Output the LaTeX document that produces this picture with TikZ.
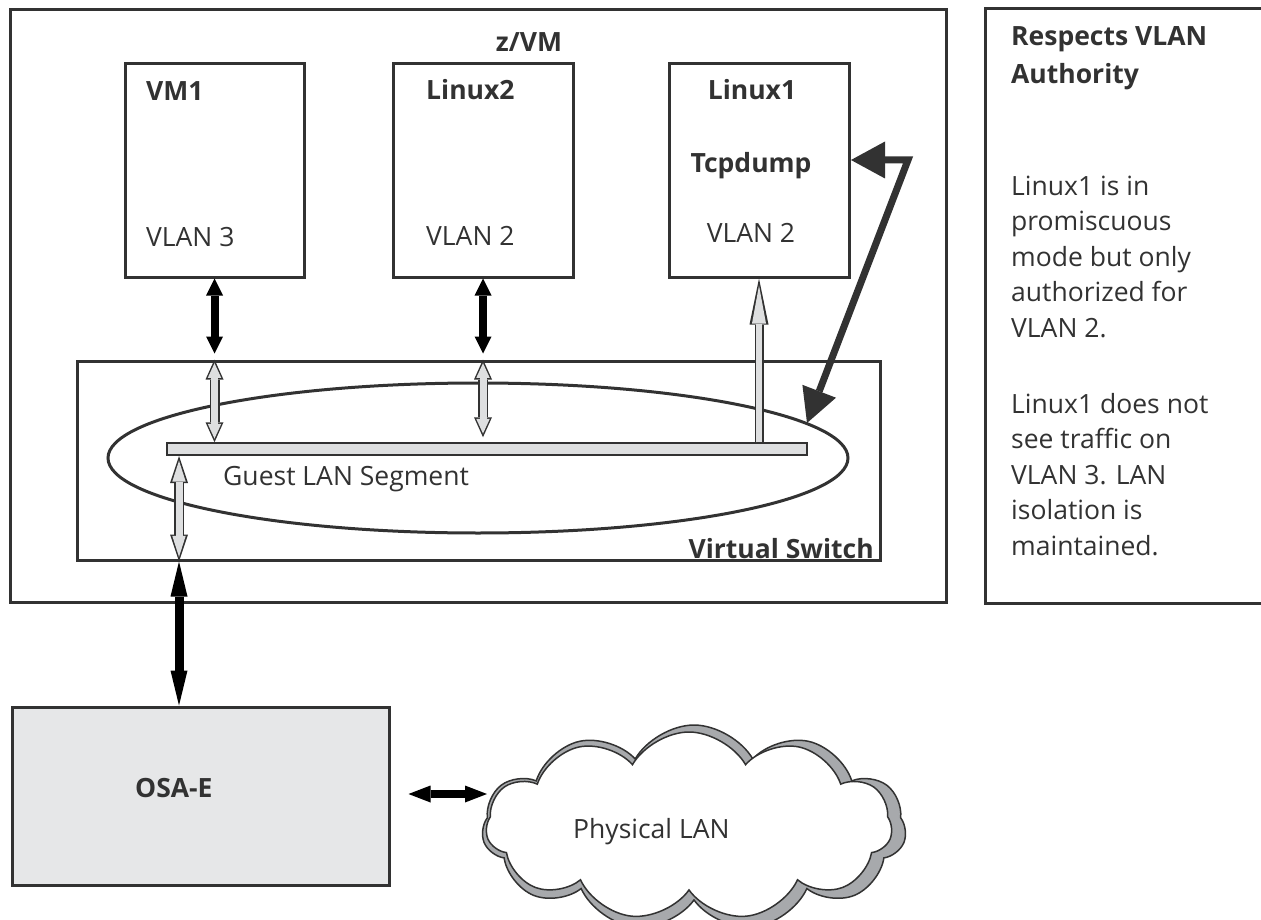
\documentclass[tikz,border=0pt]{standalone}
\usepackage{fontspec}
\setmainfont{Open Sans}
\usetikzlibrary{arrows.meta,positioning,calc,shapes.geometric,shapes.symbols}
\definecolor{ink}{RGB}{50,50,50}
\definecolor{barGray}{RGB}{222,223,224}
\definecolor{osaGray}{RGB}{230,231,232}
\definecolor{cloudGray}{RGB}{167,169,172}

\begin{document}
\begin{tikzpicture}[x=1pt, y=-1pt,
    every node/.style={font=\fontsize{26.5}{35.5}\selectfont, text=ink, inner sep=0pt},
    box/.style={draw=ink, line width=3pt},
    tag/.style={font=\fontsize{26.5}{38}\selectfont\bfseries},
    wire/.style 2 args={color=black, line width=#1,
      {Triangle[length=#2,width=17pt,line width=0pt]}-{Triangle[length=#2,width=17pt,line width=0pt]}},
    rim/.style={color=ink, line width=10pt,
      {Triangle[length=#1,width=18pt,line width=0pt]}-{Triangle[length=#1,width=18pt,line width=0pt]}},
    core/.style 2 args={color=barGray, line width=7pt, shorten <=#2, shorten >=#2,
      {Triangle[length=#1,width=13.5pt,line width=0pt]}-{Triangle[length=#1,width=13.5pt,line width=0pt]}},
    rimup/.style={color=ink, line width=9pt, -{Triangle[length=46pt,width=19pt,line width=0pt]}},
    coreup/.style={color=barGray, line width=6pt, shorten >=7pt,
      -{Triangle[length=38pt,width=14pt,line width=0pt]}},
    sniff/.style={color=ink, line width=7pt, line join=miter,
      {Triangle[length=34pt,width=37pt,line width=0pt]}-{Triangle[length=34pt,width=36pt,line width=0pt]}}
  ]
    \useasboundingbox (0,0) rectangle (1261,920);

    % z/VM and its guests
    \node[box, minimum width=936pt, minimum height=592pt] (zvm) at (478,306) {};
    \node[tag, anchor=base] (zvmtag) at (529,52) {z/VM};
    \node[box, minimum width=179pt, minimum height=213pt] (vmone) at (214.5,170.5) {};
    \node[box, minimum width=180pt, minimum height=213pt] (linuxtwo) at (483,170.5) {};
    \node[box, minimum width=180pt, minimum height=213pt] (linuxone) at (759,170.5) {};
    \node[tag, anchor=base west] (vmonetag) at (146,101) {VM1};
    \node[anchor=base west] (vmonevlan) at (146,247) {VLAN 3};
    \node[tag, anchor=base west] (linuxtwotag) at (426,100) {Linux2};
    \node[anchor=base west] (linuxtwovlan) at (426,246) {VLAN 2};
    \node[tag, anchor=base] (linuxonetag) at (752,100) {Linux1};
    \node[tag, anchor=base] (tcp) at (751,173) {Tcpdump};
    \node[anchor=base] (linuxonevlan) at (751,243) {VLAN 2};

    % Virtual Switch
    \node[box, minimum width=803pt, minimum height=199pt] (vswitch) at (478.5,460.5) {};
    \node[ellipse, draw=ink, line width=3pt, minimum width=740pt, minimum height=150pt] (seg) at (478,458) {};
    \node[draw=ink, fill=barGray, line width=1.5pt, minimum width=640pt, minimum height=12pt] (bar) at (487,449) {};
    \node[anchor=base west] (segtag) at (223,485) {Guest LAN Segment};
    \node[tag, anchor=base east] (vswitchtag) at (874,558) {Virtual Switch};

    % OSA-E and the physical LAN
    \node[box, fill=osaGray, minimum width=377pt, minimum height=178pt] (osa) at (200.5,796) {};
    \node[tag, anchor=base west] (osatag) at (135,797) {OSA-E};
    \node[cloud, cloud puffs=11, cloud puff arc=120, cloud ignores aspect, shape border rotate=12,
      draw=ink, fill=cloudGray, line width=1.5pt, minimum width=424pt, minimum height=206pt] (lanshade) at (694,828) {};
    \node[cloud, cloud puffs=11, cloud puff arc=120, cloud ignores aspect,
      draw=ink, fill=white, line width=1.5pt, minimum width=406pt, minimum height=188pt] (lan) at (689,826) {};
    \node[anchor=base west] (lantag) at (573,838) {Physical LAN};

    % Respects VLAN Authority
    \node[box, minimum width=290pt, minimum height=594pt] (note) at (1130,306) {};
    \node[tag, anchor=base west, align=left] (notehead) at (1011,84) {Respects VLAN\\Authority};
    \node[anchor=base west, align=left] (notepromisc) at (1011,337)
      {Linux1 is in\\promiscuous\\mode but only\\authorized for\\VLAN 2.};
    \node[anchor=base west, align=left] (noteisolate) at (1011,555)
      {Linux1 does not\\see traffic on\\VLAN 3. LAN\\isolation is\\maintained.};

    % links
    \coordinate (tap) at (179,456);
    \coordinate (lanport) at (487,794);
    \coordinate (sniffend) at (851,160);
    \coordinate (bend) at (908,160);
    \coordinate (hit) at (807,423);

    \draw[wire={8pt}{17pt}, shorten >=6pt] (vmone.south) -- (vmone.south |- vswitch.north);
    \draw[wire={8pt}{17pt}, shorten >=6pt] (linuxtwo.south) -- (linuxtwo.south |- vswitch.north);

    \draw[rim=20pt] (vmone.south |- vswitch.north) -- (vmone.south |- bar.north);
    \draw[core={14.7pt}{3.7pt}] (vmone.south |- vswitch.north) -- (vmone.south |- bar.north);
    \draw[rim=20pt] (linuxtwo.south |- vswitch.north) -- ($(linuxtwo.south |- bar.north)+(0,-5)$);
    \draw[core={14.7pt}{3.7pt}] (linuxtwo.south |- vswitch.north) -- ($(linuxtwo.south |- bar.north)+(0,-5)$);
    \draw[rim=27pt] (tap) -- (tap |- vswitch.south);
    \draw[core={21pt}{4.7pt}] (tap) -- (tap |- vswitch.south);
    \draw[rimup] (bar.north -| linuxone.south) -- (linuxone.south);
    \draw[coreup] (bar.north -| linuxone.south) -- (linuxone.south);

    \draw[wire={9pt}{35pt}] (tap |- vswitch.south) -- (tap |- osa.north);
    \draw[wire={8pt}{22pt}, shorten <=18pt] (osa.east |- lanport) -- (lanport);
    \draw[sniff] (sniffend) -- (bend) -- (hit);
\end{tikzpicture}
\end{document}
